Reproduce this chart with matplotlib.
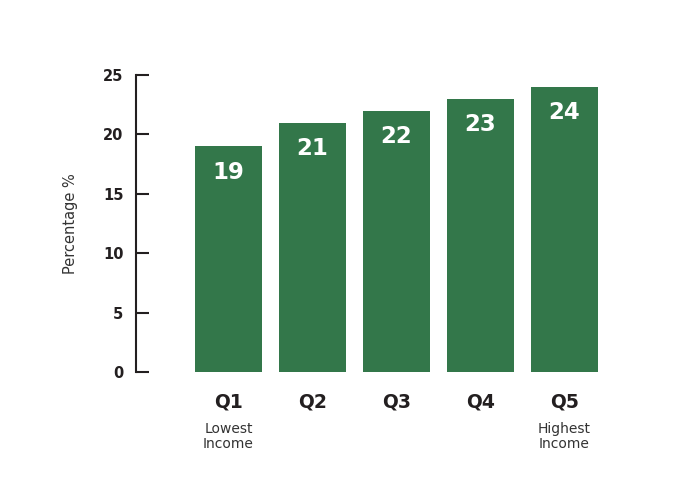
import matplotlib
matplotlib.use("Agg")
import matplotlib.pyplot as plt
from matplotlib.transforms import offset_copy

categories = ["Q1", "Q2", "Q3", "Q4", "Q5"]
values = [19, 21, 22, 23, 24]
sublabels = ["Lowest\nIncome", "", "", "", "Highest\nIncome"]
yticks = [0, 5, 10, 15, 20, 25]

plt.rcParams['font.family'] = ['DejaVu Sans']
dark = "#231f20"
green = "#33774a"

fig = plt.figure(figsize=(6.88, 5.01), dpi=100)
ax = fig.add_axes([136/688, 129/501, 464/688, 297/501])
x = list(range(len(categories)))
ax.bar(x, values, width=0.8, color=green)
ax.set_xlim(-1.101, 4.423)
ax.set_ylim(0, 25)
ax.set_yticks(yticks)
ax.set_yticklabels([str(t) for t in yticks], fontsize=10.5, fontweight='bold', color=dark)
ax.tick_params(axis='y', direction='in', length=9.5, width=1.5, color=dark, pad=9)
ax.set_xticks([])
for s in ['top', 'right', 'bottom']:
    ax.spines[s].set_visible(False)
ax.spines['left'].set_color(dark)
ax.spines['left'].set_linewidth(1.5)
ax.set_ylabel("Percentage %", fontsize=10.5, color="#333333", labelpad=18)

for xi, v in zip(x, values):
    t = offset_copy(ax.transData, fig=fig, x=0, y=-26, units='dots')
    ax.text(xi, v, str(v), transform=t, ha='center', va='center',
            color='white', fontsize=16.5, fontweight='bold')

for xi, c, s in zip(x, categories, sublabels):
    t = offset_copy(ax.transData, fig=fig, x=0, y=-30, units='dots')
    ax.text(xi, 0, c, transform=t, ha='center', va='center', color=dark,
            fontsize=13.5, fontweight='bold', clip_on=False)
    if s:
        t2 = offset_copy(ax.transData, fig=fig, x=0, y=-50, units='dots')
        ax.text(xi, 0, s, transform=t2, ha='center', va='top', color="#333333",
                fontsize=10, linespacing=1.1, clip_on=False)

fig.savefig("out.png", dpi=100)
